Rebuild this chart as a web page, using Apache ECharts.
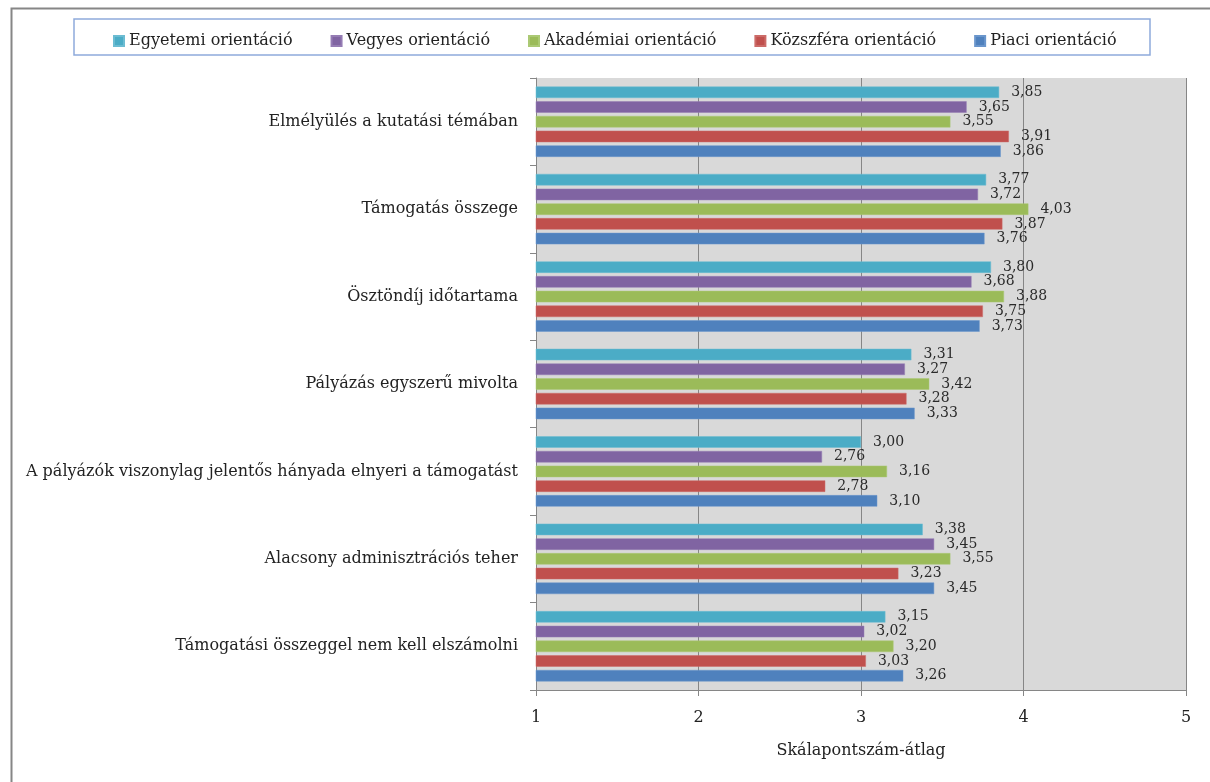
<!DOCTYPE html>
<html>
<head>
<meta charset="utf-8">
<script src="https://cdn.jsdelivr.net/npm/echarts@6/dist/echarts.min.js"></script>
<style>
html,body{margin:0;padding:0;background:#fff;}
#chart{width:1210px;height:782px;}
</style>
</head>
<body>
<div id="chart"></div>
<script>
var categories = [
  'Elmélyülés a kutatási témában',
  'Támogatás összege',
  'Ösztöndíj időtartama',
  'Pályázás egyszerű mivolta',
  'A pályázók viszonylag jelentős hányada elnyeri a támogatást',
  'Alacsony adminisztrációs teher',
  'Támogatási összeggel nem kell elszámolni'
];
var seriesNames = ['Egyetemi orientáció', 'Vegyes orientáció', 'Akadémiai orientáció', 'Közszféra orientáció', 'Piaci orientáció'];
var egyetemi  = [3.85, 3.77, 3.80, 3.31, 3.00, 3.38, 3.15];
var vegyes    = [3.65, 3.72, 3.68, 3.27, 2.76, 3.45, 3.02];
var akademiai = [3.55, 4.03, 3.88, 3.42, 3.16, 3.55, 3.20];
var kozszfera = [3.91, 3.87, 3.75, 3.28, 2.78, 3.23, 3.03];
var piaci     = [3.86, 3.76, 3.73, 3.33, 3.10, 3.45, 3.26];
var xTicks = [1, 2, 3, 4, 5];
var axisTitle = 'Skálapontszám-átlag';

var colors = ['#4bacc6', '#8064a2', '#9bbb59', '#c0504d', '#4f81bd'];
var borders = ['#6cbcd2', '#957cb4', '#abc974', '#cc6b68', '#6a96cc'];
var FONT = 'DejaVu Serif';
var allData = [egyetemi, vegyes, akademiai, kozszfera, piaci];

var chart = echarts.init(document.getElementById('chart'));
var series = seriesNames.map(function (n, i) {
  return {
    name: n,
    type: 'bar',
    data: allData[i],
    barWidth: 11.5,
    barGap: '28%',
    itemStyle: { color: colors[i], borderColor: borders[i], borderWidth: 0.5 },
    label: {
      show: true,
      position: 'right',
      distance: 12,
      fontFamily: FONT,
      fontSize: 14,
      color: '#2a2a2a',
      formatter: function (p) { return p.value.toFixed(2).replace('.', ','); }
    }
  };
});

chart.setOption({
  animation: false,
  color: colors,
  textStyle: { fontFamily: FONT },
  graphic: [
    { type: 'rect', left: 9, top: 6, shape: { x: 0, y: 0, width: 1300, height: 900 },
      style: { fill: 'none', stroke: '#868686', lineWidth: 2 }, silent: true, z: -10 },
    { type: 'rect', shape: { x: 74, y: 19, width: 1076, height: 36 },
      style: { fill: 'none', stroke: '#8eaadb', lineWidth: 1.5 }, silent: true, z: -5 }
  ],
  legend: {
    left: 108,
    top: 28,
    itemWidth: 10,
    itemHeight: 10,
    itemGap: 38,
    icon: 'rect',
    textStyle: { fontFamily: FONT, fontSize: 16, color: '#222' },
    data: seriesNames
  },
  grid: {
    left: 536,
    right: 24,
    top: 78,
    bottom: 92,
    show: true,
    backgroundColor: '#d9d9d9',
    borderWidth: 0
  },
  xAxis: {
    type: 'value',
    min: 1,
    max: 5,
    interval: 1,
    name: axisTitle,
    nameLocation: 'middle',
    nameGap: 53,
    nameTextStyle: { fontFamily: FONT, fontSize: 16, color: '#222' },
    axisLine: { show: true, lineStyle: { color: '#868686', width: 1 } },
    axisTick: { show: true, length: 6, lineStyle: { color: '#868686' } },
    axisLabel: { fontFamily: FONT, fontSize: 16, color: '#222', margin: 20,
      formatter: function (v) { return xTicks.indexOf(v) >= 0 ? String(v) : ''; } },
    splitLine: { show: true, lineStyle: { color: '#868686', width: 1 } }
  },
  yAxis: {
    type: 'category',
    inverse: true,
    data: categories,
    axisLine: { show: true, lineStyle: { color: '#868686', width: 1 } },
    axisTick: { show: true, length: 6, lineStyle: { color: '#868686' } },
    axisLabel: { fontFamily: FONT, fontSize: 16, color: '#222', margin: 18 },
    splitLine: { show: false }
  },
  series: series
});
</script>
</body>
</html>
